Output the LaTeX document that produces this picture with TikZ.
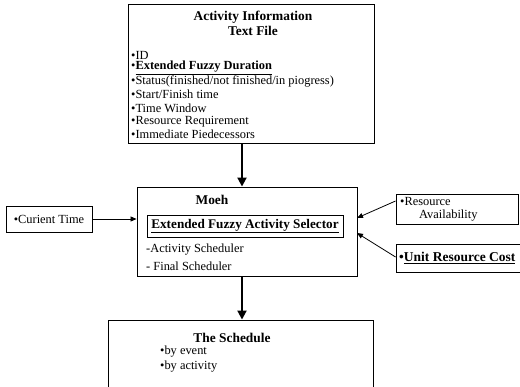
\documentclass[tikz,border=0pt]{standalone}
\usepackage{fontspec}
\setmainfont{Liberation Serif}
\usetikzlibrary{arrows.meta}
\begin{document}
\begin{tikzpicture}[x=1pt,y=-1pt,
  box/.style={draw=black,line width=0.9pt,inner sep=0pt},
  txt/.style={inner sep=0pt,anchor=west,font=\fontsize{12.4}{13}\selectfont},
  ttl/.style={inner sep=0pt,font=\bfseries\fontsize{13.4}{14}\selectfont},
  bigarrow/.style={line width=2pt,-{Triangle[length=9pt,width=9pt]}},
  smallarrow/.style={line width=0.8pt,-{Triangle[length=6pt,width=5pt]}}]
\useasboundingbox (0,0) rectangle (520,387);
\clip (0,0) rectangle (520,387);
\fill[white] (0,0) rectangle (520,387);
% top box
\node[box,minimum width=246pt,minimum height=139pt] (info) at (251,73.5) {};
\node[ttl] (t1) at (253,17) {Activity Information};
\node[ttl] (t2) at (253,31) {Text File};
\node[txt] (i1) at (131,55) {•ID};
\node[txt] (i2) at (131,68) {•\textbf{\underline{Extended Fuzzy Duration}}};
\node[txt] (i3) at (131,81.3) {•Status(finished/not finished/in piogress)};
\node[txt] (i4) at (131,94.6) {•Start/Finish time};
\node[txt] (i5) at (131,108) {•Time Window};
\node[txt] (i6) at (131,121.3) {•Resource Requirement};
\node[txt] (i7) at (131,134.6) {•Immediate Piedecessors};
% middle box
\node[box,minimum width=220pt,minimum height=89pt] (moeh) at (247,231.5) {};
\node[ttl] (m1) at (212,200) {Moeh};
\node[box,line width=0.8pt,minimum width=196pt,minimum height=22pt] (sel) at (245,226) {};
\node[inner sep=0pt,font=\bfseries\fontsize{13.2}{14}\selectfont] (selt) at (245,226) {\underline{Extended Fuzzy Activity Selector}};
\node[txt] (m2) at (146,250) {-Activity Scheduler};
\node[txt] (m3) at (146,266) {- Final Scheduler};
% left box
\node[box,minimum width=86pt,minimum height=26pt] (ct) at (49,219) {};
\node[inner sep=0pt,font=\fontsize{12.4}{13}\selectfont] (ctt) at (49,219) {•Curient Time};
% right boxes
\node[box,minimum width=122pt,minimum height=30pt] (ra) at (457,209) {};
\node[txt] (ra1) at (400,202) {•Resource};
\node[txt] (ra2) at (419,216) {Availability};
\node[box,minimum width=124pt,minimum height=28pt] (uc) at (458,258) {};
\node[inner sep=0pt,anchor=west,font=\bfseries\fontsize{13.5}{14}\selectfont] (uct) at (399,258) {•\underline{Unit Resource Cost}};
% schedule box
\node[box,minimum width=265pt,minimum height=80pt] (sch) at (240.5,360) {};
\node[ttl] (s1) at (232,338) {The Schedule};
\node[txt] (s2) at (160,352) {•by event};
\node[txt] (s3) at (160,367) {•by activity};
% arrows
\draw[bigarrow] (info.south -| 242,0) -- (moeh.north -| 242,0);
\draw[bigarrow] (moeh.south -| 242,0) -- (sch.north -| 242,0);
\draw[smallarrow] (ct.east) -- (ct.east -| moeh.west);
\coordinate (raend) at (357,218);
\coordinate (ucend) at (357,233);
\draw[smallarrow] (ra.west |- 0,201) -- (raend);
\draw[smallarrow] (uc.west |- 0,257) -- (ucend);
\end{tikzpicture}
\end{document}
